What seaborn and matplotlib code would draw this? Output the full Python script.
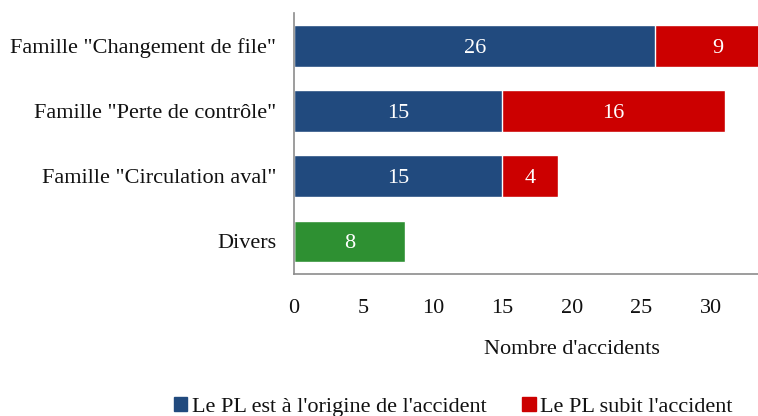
import numpy as np
import pandas as pd
import matplotlib
matplotlib.use("Agg")
import matplotlib.pyplot as plt
from matplotlib.patches import Patch
import seaborn as sns

categories = ['Famille "Changement de file"', 'Famille "Perte de contrôle"',
              'Famille "Circulation aval"', 'Divers']
origine = [26, 15, 15, 0]   # Le PL est à l'origine de l'accident
subit = [9, 16, 4, 0]       # Le PL subit l'accident
divers = [0, 0, 0, 8]

blue = '#214A7E'
red = '#CC0000'
green = '#2E9032'
fs = 16

df = pd.DataFrame({'cat': categories, 'origine': origine, 'subit': subit, 'divers': divers})
df['total'] = df['origine'] + df['subit'] + df['divers']

sns.set_style('white')
plt.rcParams['font.family'] = ['Liberation Serif', 'DejaVu Serif']
plt.rcParams['text.color'] = '#111111'
plt.rcParams['xtick.color'] = '#111111'
plt.rcParams['ytick.color'] = '#111111'
plt.rcParams['axes.labelcolor'] = '#111111'

fig = plt.figure(figsize=(7.58, 4.16), dpi=100)
ax = fig.add_axes([0.388, 0.3413, 0.733, 0.6274])

# totals first (red / green), then the "origine" part on top in blue
sns.barplot(data=df, x='total', y='cat', hue='cat', palette=[red, red, red, green],
            legend=False, orient='h', width=0.64, saturation=1, ax=ax)
sns.barplot(data=df, x='origine', y='cat', color=blue, orient='h',
            width=0.64, saturation=1, ax=ax)

for i, row in df.iterrows():
    if row['origine'] > 0:
        ax.text(row['origine'] / 2, i, str(row['origine']), color='white',
                ha='center', va='center_baseline', fontsize=fs)
    if row['subit'] > 0:
        ax.text(row['origine'] + row['subit'] / 2, i, str(row['subit']), color='white',
                ha='center', va='center_baseline', fontsize=fs)
    if row['divers'] > 0:
        ax.text(row['divers'] / 2, i, str(row['divers']), color='white',
                ha='center', va='center_baseline', fontsize=fs)

ax.set_xlim(0, 40)
ax.set_xticks(np.arange(0, 31, 5))
ax.set_ylabel('')
ax.set_xlabel("Nombre d'accidents", fontsize=fs, labelpad=16)
ax.tick_params(axis='both', length=0, labelsize=fs)
ax.tick_params(axis='x', pad=18)
ax.tick_params(axis='y', pad=13)
for s in ['top', 'right']:
    ax.spines[s].set_visible(False)
for s in ['left', 'bottom']:
    ax.spines[s].set_color('#8C8C8C')
    ax.spines[s].set_linewidth(1.2)

handles = [Patch(color=blue, label="Le PL est à l'origine de l'accident"),
           Patch(color=red, label="Le PL subit l'accident")]
fig.legend(handles=handles, loc='center', bbox_to_anchor=(0.598, 0.022), ncol=2,
           frameon=False, fontsize=fs, handlelength=0.6, handleheight=0.6,
           handletextpad=0.2, columnspacing=1.6)

fig.savefig('out.png', dpi=100)
